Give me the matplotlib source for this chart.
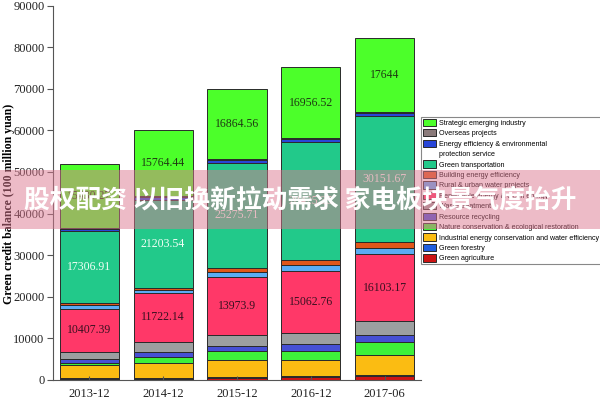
import numpy as np
import matplotlib.pyplot as plt
from matplotlib.patches import Rectangle, Patch

# periods on the x axis
periods = ['2013-12', '2014-12', '2015-12', '2016-12', '2017-06']

# stacked series, bottom to top (100 million yuan)
agriculture = [250, 250, 500, 700, 900]
forestry = [150, 150, 200, 200, 200]
industrial = [3200, 3600, 4100, 3900, 4800]
nature = [600, 1500, 2160, 2160, 3300]
recycling = [800, 1150, 1250, 1600, 1600]
waste = [1700, 2600, 2560, 2650, 3300]
renewable = [10407.39, 11722.14, 13973.9, 15062.76, 16103.17]
water = [800, 650, 1200, 1300, 1600]
building = [650, 550, 1050, 1150, 1440]
transport = [17306.91, 21203.54, 25275.71, 28425.35, 30151.67]
energy_service = [450, 650, 600, 700, 800]
overseas = [200, 300, 200, 300, 300]
strategic = [15430.27, 15764.44, 16864.56, 16956.52, 17644]

series = [
    ('Green agriculture', agriculture, '#cc1414'),
    ('Green forestry', forestry, '#1f5fe0'),
    ('Industrial energy conservation and water efficiency', industrial, '#fbbc12'),
    ('Nature conservation & ecological restoration', nature, '#3ef03a'),
    ('Resource recycling', recycling, '#4650d4'),
    ('Waste treatment', waste, '#9c9fa0'),
    ('Renewable energy & clean energy', renewable, '#ff3868'),
    ('Rural & urban water projects', water, '#5aacf4'),
    ('Building energy efficiency', building, '#e0561a'),
    ('Green transportation', transport, '#22c98a'),
    ('Energy efficiency & environmental', energy_service, '#2846d8'),
    ('Overseas projects', overseas, '#8a7a7a'),
    ('Strategic emerging industry', strategic, '#4cff2a'),
]
label_colors = {'Renewable energy & clean energy': '#3a1020',
                'Green transportation': '#f2fff6',
                'Strategic emerging industry': '#1e3a12'}

fig = plt.figure(figsize=(6, 4), dpi=100)
ax = fig.add_axes([53 / 600, 1 - 380 / 400, (421 - 53) / 600, (380 - 5.5) / 400])

x = np.arange(len(periods))
bottom = np.zeros(len(periods))
handles = {}
for name, vals, color in series:
    vals = np.array(vals, dtype=float)
    bars = ax.bar(x, vals, 0.8, bottom=bottom, color=color,
                  edgecolor='#2a2a2a', linewidth=0.7, label=name)
    handles[name] = bars
    if name in label_colors:
        for xi, b, v in zip(x, bottom, vals):
            txt = ('%.2f' % v).rstrip('0').rstrip('.')
            ax.text(xi, b + v / 2, txt, ha='center', va='center',
                    fontsize=8.5, color=label_colors[name], family='Liberation Serif')
    bottom += vals

ax.set_xlim(-0.49, 4.49)
ax.set_ylim(0, 90000)
ax.set_yticks(np.arange(0, 90001, 10000))
ax.set_xticks(x)
ax.set_xticklabels(periods)
for lab in ax.get_xticklabels() + ax.get_yticklabels():
    lab.set_family('Liberation Serif')
    lab.set_fontsize(9)
    lab.set_color('#222222')
ax.tick_params(axis='y', direction='out', length=4, color='#555555', pad=2)
ax.tick_params(axis='x', direction='in', length=3, color='#555555', pad=6)
for s in ['top', 'right']:
    ax.spines[s].set_visible(False)
for s in ['left', 'bottom']:
    ax.spines[s].set_color('#555555')
ax.set_ylabel('Green credit balance (100 million yuan)', family='Liberation Serif',
              fontweight='bold', fontsize=8.5)
ax.yaxis.set_label_coords(-0.103, 0.47)

# legend, top to bottom
order = ['Strategic emerging industry', 'Overseas projects',
         'Energy efficiency & environmental', None, 'Green transportation',
         'Building energy efficiency', 'Rural & urban water projects',
         'Renewable energy & clean energy', 'Waste treatment', 'Resource recycling',
         'Nature conservation & ecological restoration',
         'Industrial energy conservation and water efficiency',
         'Green forestry', 'Green agriculture']
leg_h, leg_l = [], []
for name in order:
    if name is None:
        leg_h.append(Patch(facecolor='none', edgecolor='none'))
        leg_l.append('protection service')
    else:
        leg_h.append(handles[name])
        leg_l.append(name)
leg = fig.legend(leg_h, leg_l, loc='upper left', bbox_to_anchor=(421 / 600, 1 - 117 / 400),
                 borderaxespad=0, labelspacing=0.34, handlelength=1.9,
                 handleheight=1.2, handletextpad=0.35, borderpad=0.25, fancybox=False,
                 edgecolor='#888888', framealpha=1,
                 prop={'family': 'Liberation Sans', 'size': 5.1})
leg.get_frame().set_linewidth(0.8)

# banner overlay
fig.patches.append(Rectangle((0, 1 - 229 / 400), 1, 59 / 400, transform=fig.transFigure,
                             facecolor='#dc7890', alpha=0.5, edgecolor='none', zorder=10))
fig.text(0.5, 1 - 200 / 400, '股权配资 以旧换新拉动需求 家电板块景气度抬升',
         ha='center', va='center', color='white', fontsize=18.5, fontweight='bold',
         family=['Noto Sans CJK SC', 'DejaVu Sans'], zorder=11)

fig.savefig('out.png', dpi=100)
